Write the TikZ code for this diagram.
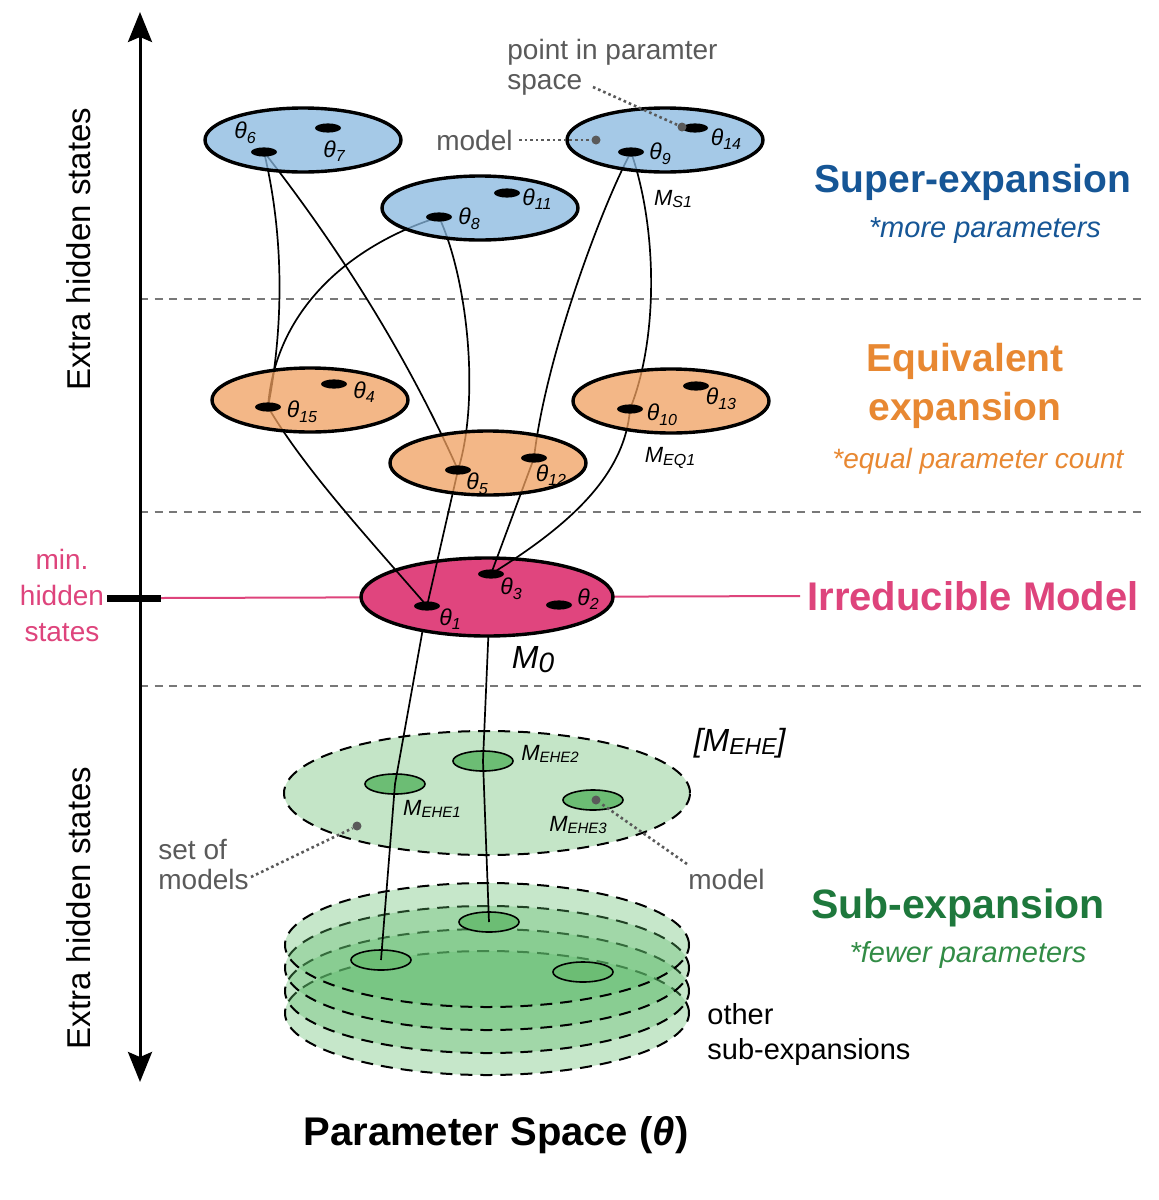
\documentclass[tikz,border=0pt]{standalone}
\usepackage{fontspec}
\setmainfont{Liberation Sans}
\usetikzlibrary{shapes.geometric,arrows.meta}
\pgfdeclarelayer{paper}
\pgfdeclarelayer{back}
\pgfsetlayers{paper,back,main}
\definecolor{bluefill}{RGB}{136,184,224}
\definecolor{orangefill}{RGB}{240,160,95}
\definecolor{pinkfill}{RGB}{224,69,126}
\definecolor{greenlight}{RGB}{196,229,199}
\definecolor{greensmall}{RGB}{108,189,116}
\definecolor{stackgreen}{RGB}{93,187,106}
\definecolor{blueText}{RGB}{22,86,150}
\definecolor{orangeText}{RGB}{232,136,50}
\definecolor{pinkText}{RGB}{222,68,124}
\definecolor{greenText}{RGB}{30,120,60}
\definecolor{greenItal}{RGB}{50,140,70}
\definecolor{greyText}{RGB}{90,90,90}
\definecolor{sepgrey}{RGB}{120,120,120}
\newcommand\tht[1]{\textit{\fontsize{11.5}{11.5}\selectfont θ\raisebox{-0.2em}{\fontsize{8}{8}\selectfont #1}}}
\newcommand\Mlab[3]{\textit{\fontsize{#1}{#1}\selectfont M\raisebox{-0.12em}{\fontsize{#2}{#2}\selectfont #3}}}
\begin{document}
\begin{tikzpicture}[x=0.5pt,y=-0.5pt,
  region/.style={ellipse, draw=black, line width=1.7pt, inner sep=0pt, minimum width=98pt, minimum height=32pt},
  bluereg/.style={region, fill=bluefill, fill opacity=0.75},
  orangereg/.style={region, fill=orangefill, fill opacity=0.75},
  pt/.style={ellipse, fill=black, inner sep=0pt, minimum width=13pt, minimum height=4.6pt},
  conn/.style={line width=0.85pt, black},
  lab/.style={inner sep=0pt},
  sepline/.style={sepgrey, line width=1.2pt, dash pattern=on 4pt off 3.3pt},
  dotl/.style={greyText, line width=1.3pt, dash pattern=on 1.3pt off 1.5pt},
  gdot/.style={circle, fill=greyText, inner sep=0pt, minimum size=4.5pt},
  greyl/.style={text=greyText, inner sep=0pt, font=\fontsize{14}{15}\selectfont},
  stacklayer/.style={ellipse, draw=black, line width=1pt, dash pattern=on 6pt off 4pt, fill=stackgreen, fill opacity=0.35, minimum width=202pt, minimum height=62pt, inner sep=0pt},
  smallg/.style={ellipse, draw=black, line width=0.8pt, fill=greensmall, minimum width=30pt, minimum height=10pt, inner sep=0pt},
  head/.style={inner sep=0pt, font=\bfseries\fontsize{19.5}{24.5}\selectfont},
  note/.style={inner sep=0pt, font=\itshape\fontsize{14.5}{17}\selectfont},
]
\useasboundingbox (0,0) rectangle (1158,1200);
\begin{pgfonlayer}{paper}
  \fill[white] (0,0) rectangle (1158,1200);
\end{pgfonlayer}

% ---------- super-expansion ellipses ----------
\node[bluereg] (E6) at (303,140) {};
\node[bluereg] (E8) at (480,208) {};
\node[bluereg] (E9) at (665,140) {};
% ---------- equivalent expansion ellipses ----------
\node[orangereg] (E15) at (310,400) {};
\node[orangereg] (E10) at (671,401) {};
\node[orangereg] (E5) at (488,463) {};

% ---------- points ----------
\node[pt] (t6) at (264,152) {};
\node[pt] (t7) at (328,128) {};
\node[pt] (t8) at (439,217) {};
\node[pt] (t11) at (507,193) {};
\node[pt] (t9) at (631,152) {};
\node[pt] (t14) at (695,128) {};
\node[pt] (t15) at (268,407) {};
\node[pt] (t4) at (334,384) {};
\node[pt] (t10) at (630,409) {};
\node[pt] (t13) at (696,386) {};
\node[pt] (t5) at (458,470) {};
\node[pt] (t12) at (534,458) {};
\node[pt] (t3) at (491,574) {};
\node[pt] (t1) at (427,606) {};
\node[pt] (t2) at (559,605) {};

% ---------- point labels ----------
\node[lab] (l6) at (245,133) {\tht{6}};
\node[lab] (l7) at (334,151) {\tht{7}};
\node[lab] (l8) at (469,219) {\tht{8}};
\node[lab] (l11) at (537,199) {\tht{11}};
\node[lab] (l9) at (660,154) {\tht{9}};
\node[lab] (l14) at (726,139) {\tht{14}};
\node[lab] (l15) at (302,412) {\tht{15}};
\node[lab] (l4) at (364,392) {\tht{4}};
\node[lab] (l10) at (662,415) {\tht{10}};
\node[lab] (l13) at (721,399) {\tht{13}};
\node[lab] (l5) at (477,484) {\tht{5}};
\node[lab] (l12) at (551,475) {\tht{12}};
\node[lab] (l3) at (511,589) {\tht{3}};
\node[lab] (l1) at (450,619) {\tht{1}};
\node[lab] (l2) at (588,599) {\tht{2}};
\node[lab] (ms1) at (673,199) {\Mlab{11}{8}{S1}};
\node[lab] (meq1) at (670,458) {\Mlab{11}{8}{EQ1}};
\node[lab] (mzero) at (533,660) {\Mlab{16}{14}{0}};

% ---------- headings ----------
\node[head, text=blueText] (sup) at (973,182) {Super-expansion};
\node[note, text=blueText] (supn) at (985,231) {*more parameters};
\node[head, text=orangeText, align=center] (eqv) at (965,386) {Equivalent\\expansion};
\node[note, text=orangeText, font=\itshape\fontsize{14}{17}\selectfont] (eqvn) at (978,461) {*equal parameter count};
\node[head, text=pinkText, anchor=west, font=\bfseries\fontsize{20}{24}\selectfont] (irr) at (807,596) {Irreducible Model};
\node[head, text=greenText, font=\bfseries\fontsize{20.5}{24}\selectfont] (subx) at (958,908) {Sub-expansion};
\node[note, text=greenItal] (subn) at (968,955) {*fewer parameters};
\node[head, font=\bfseries\fontsize{20}{24}\selectfont] (pspace) at (496,1135) {Parameter Space (\textit{θ})};

% ---------- axis ----------
\coordinate (axtop) at (140,12);
\coordinate (axbot) at (140,1082);
\draw[line width=1.5pt, {Stealth[length=15pt,width=12pt,inset=2.5pt]}-{Stealth[length=15pt,width=12pt,inset=2.5pt]}] (axtop) -- (axbot);
\coordinate (tickL) at (107,598);
\coordinate (tickR) at (161,598);
\draw[line width=3.5pt] (tickL) -- (tickR);
\node[inner sep=0pt, rotate=90, font=\fontsize{16.5}{20}\selectfont] (ehs1) at (79,249) {Extra hidden states};
\node[inner sep=0pt, rotate=90, font=\fontsize{16.5}{20}\selectfont] (ehs2) at (79,908) {Extra hidden states};
\node[inner sep=0pt, text=pinkText, align=center, font=\fontsize{14}{18}\selectfont] (minh) at (62,595) {min.\\hidden\\states};

% ---------- green region labels ----------
\node[lab] (lm1) at (432,809) {\Mlab{11}{7.5}{EHE1}};
\node[lab] (lm2) at (550,754) {\Mlab{11}{7.5}{EHE2}};
\node[lab] (lm3) at (578,825) {\Mlab{11}{7.5}{EHE3}};
\node[lab] (mehe) at (740,743) {\textit{\fontsize{16}{16}\selectfont [M\raisebox{-0.1em}{\fontsize{11.5}{11.5}\selectfont EHE}]}};
\node[inner sep=0pt, anchor=west, align=left, font=\fontsize{14.5}{17.5}\selectfont] (other) at (707,1034) {other\\sub-expansions};

% ---------- grey annotations ----------
\node[gdot] (gd1) at (682,127) {};
\node[gdot] (gd2) at (596,140) {};
\node[gdot] (gd3) at (357,826) {};
\node[gdot] (gd4) at (596,800) {};
\node[greyl, anchor=west, align=left] (pps) at (507,67) {point in paramter\\space};
\coordinate (ppsend) at (593,87);
\draw[dotl] (ppsend) -- (gd1);
\node[greyl, anchor=east] (mod1) at (513,140) {model};
\draw[dotl, shorten <=3pt] (mod1.east) -- (gd2);
\node[greyl, anchor=west, align=left] (som) at (158,864) {set of\\models};
\coordinate (somend) at (251,877);
\draw[dotl] (somend) -- (gd3);
\node[greyl, anchor=west] (mod2) at (688,879) {model};
\coordinate (mod2s) at (687,864);
\draw[dotl] (mod2s) -- (gd4);

% ---------- background layer ----------
\begin{pgfonlayer}{back}
  \coordinate (sa1) at (140,299); \coordinate (sb1) at (1143,299);
  \coordinate (sa2) at (140,512); \coordinate (sb2) at (1143,512);
  \coordinate (sa3) at (140,686); \coordinate (sb3) at (1143,686);
  \draw[sepline] (sa1) -- (sb1);
  \draw[sepline] (sa2) -- (sb2);
  \draw[sepline] (sa3) -- (sb3);
  % stack of sub-expansions
  \node[stacklayer] (stack4) at (487,1013) {};
  \node[stacklayer] (stack3) at (487,991) {};
  \node[stacklayer] (stack2) at (487,968) {};
  \node[stacklayer] (stack1) at (487,945) {};
  \node[smallg] (s1) at (381,960) {};
  \node[smallg] (s2) at (489,922) {};
  \node[smallg] (s3) at (583,972) {};
  % main sub-expansion set
  \node[ellipse, draw=black, line width=1pt, dash pattern=on 6pt off 4pt, fill=greenlight, minimum width=203pt, minimum height=62pt, inner sep=0pt] (ehe) at (487,793) {};
  \node[smallg] (m1) at (395,784) {};
  \node[smallg] (m2) at (483,761) {};
  \node[smallg] (m3) at (593,800) {};
  % down connectors
  \draw[conn] (t1.center) -- (m1.center) -- (s1.center);
  \draw[conn] (t3.center) -- (m2.center) -- (s2.center);
  % pink level line
  \draw[pinkText, line width=1pt, shorten >=3.5pt] (tickR) -- (irr.west);
  % irreducible model
  \node[ellipse, draw=black, line width=1.7pt, fill=pinkfill, minimum width=126pt, minimum height=39pt, inner sep=0pt] (M0) at (487,597) {};
  % upper connectors
  \draw[conn] (t6.center) .. controls (285,240) and (283,330) .. (t15.center);
  \draw[conn] (t6.center) .. controls (342,252) and (408,358) .. (t5.center);
  \draw[conn] (t8.center) .. controls (350,245) and (275,310) .. (t15.center);
  \draw[conn] (t8.center) .. controls (468,280) and (480,400) .. (t5.center);
  \draw[conn] (t9.center) .. controls (600,210) and (545,360) .. (t12.center);
  \draw[conn] (t9.center) .. controls (658,230) and (658,340) .. (t10.center);
  \draw[conn] (t15.center) .. controls (305,470) and (370,540) .. (t1.center);
  \draw[conn] (t5.center) -- (t1.center);
  \draw[conn] (t12.center) -- (t3.center);
  \draw[conn] (t10.center) .. controls (625,475) and (570,525) .. (t3.center);
\end{pgfonlayer}
\end{tikzpicture}
\end{document}
